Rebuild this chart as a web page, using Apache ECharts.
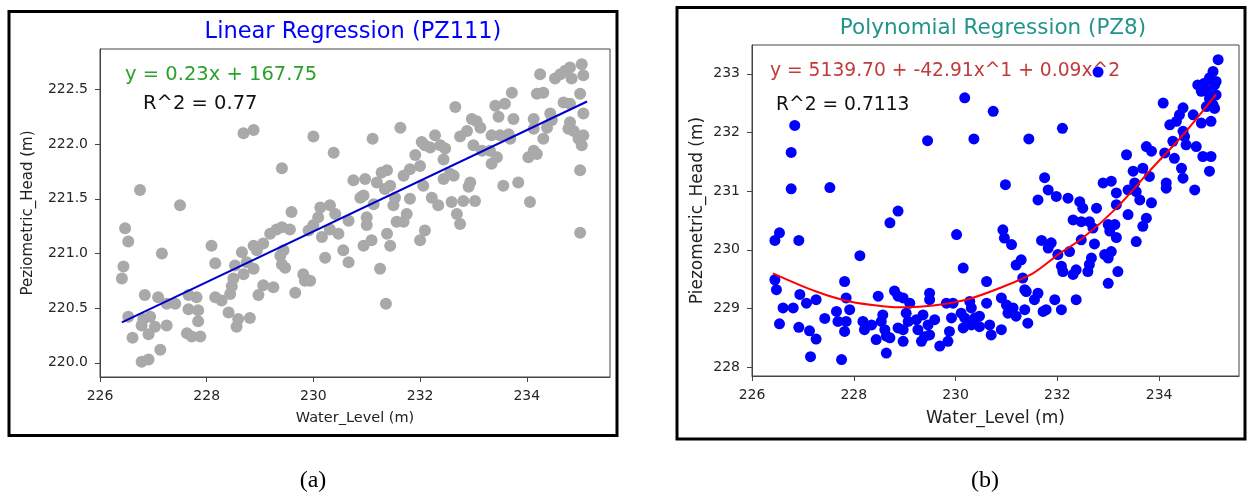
<!DOCTYPE html>
<html>
<head>
<meta charset="utf-8">
<script src="https://cdn.jsdelivr.net/npm/echarts@6/dist/echarts.min.js"></script>
<style>
html,body{margin:0;padding:0;background:#fff;}
#c{width:1247px;height:495px;}
</style>
</head>
<body>
<div id="c"></div>
<script>
// ---- Panel (a): Linear Regression (PZ111) ----
const leftX = [226.47,226.53,226.44,226.41,226.75,227.50,227.16,226.84,227.09,226.53,
226.81,226.94,226.78,227.03,227.25,226.91,226.61,227.13,226.78,226.91,
227.25,227.41,227.66,227.81,227.84,227.66,227.84,227.63,227.72,227.88,
228.09,228.16,228.16,228.28,228.44,228.41,228.47,228.50,228.53,228.66,
228.75,228.88,228.69,228.59,228.56,228.81,228.97,229.06,229.25,228.88,
228.94,229.06,229.19,229.31,229.41,229.56,229.44,229.38,229.41,229.47,
229.59,229.66,229.81,229.84,229.94,229.91,230.00,230.09,230.13,230.16,
230.22,230.31,230.31,230.41,230.47,230.56,230.66,230.66,230.38,230.00,
229.41,228.69,228.88,230.75,230.97,230.88,230.94,231.00,231.00,230.94,
231.09,231.25,231.36,231.13,231.19,231.28,231.38,231.34,231.44,231.53,
231.50,231.38,231.44,231.56,231.69,231.75,231.81,231.63,231.11,231.69,
231.81,231.91,232.00,232.06,232.09,232.03,232.19,232.28,232.38,232.47,
232.44,232.00,232.09,232.22,232.34,232.44,232.56,232.63,232.66,232.59,
232.69,232.75,232.81,232.75,232.88,232.94,232.91,233.03,232.97,233.06,
233.13,233.00,233.16,233.31,233.34,233.44,233.41,233.47,233.50,233.34,
233.59,233.66,233.72,233.75,233.69,233.56,233.84,234.06,234.03,234.13,
234.19,234.13,234.13,234.25,234.19,234.31,234.38,234.44,234.31,234.47,
234.53,234.63,234.72,234.81,234.84,235.03,235.06,234.69,234.81,235.00,
235.06,234.81,234.88,234.97,235.03,235.06,235.00,235.00,234.78];
const leftY = [221.23,221.11,220.88,220.77,221.58,221.44,221.00,220.62,220.60,220.42,
220.40,220.42,220.34,220.33,220.34,220.26,220.23,220.12,220.01,220.03,
220.54,220.54,220.62,220.60,220.48,220.49,220.38,220.27,220.24,220.24,
221.07,220.91,220.60,220.57,220.63,220.46,220.70,220.77,220.89,221.01,
220.92,220.86,220.81,220.40,220.33,220.41,220.62,220.71,220.69,221.07,
221.03,221.09,221.18,221.22,221.24,221.22,221.03,220.98,220.90,220.87,
221.38,220.64,220.81,220.75,220.75,221.21,221.26,221.33,221.42,221.15,
220.96,221.22,221.44,221.36,221.18,221.03,220.92,221.30,221.92,222.07,
221.78,222.10,222.13,221.67,221.68,221.51,221.53,221.33,221.26,221.07,
221.12,220.86,220.54,221.45,221.65,221.74,221.76,221.59,221.62,221.51,
221.44,221.18,221.07,221.29,221.29,221.36,221.50,222.15,222.05,221.71,
221.77,221.90,221.80,221.62,221.99,222.02,221.97,222.08,221.99,221.96,
221.86,221.12,221.21,221.51,221.44,221.68,221.73,221.71,222.34,221.47,
221.36,221.27,221.48,222.07,222.12,221.65,221.61,221.48,222.23,222.21,
222.15,221.99,221.94,221.94,221.82,221.88,222.35,222.25,222.08,222.08,
222.37,222.09,222.47,222.23,222.05,221.62,221.65,221.47,221.88,221.94,
221.91,222.14,222.23,222.64,222.46,222.47,222.15,222.28,222.05,222.22,
222.60,222.64,222.67,222.70,222.60,222.73,222.63,222.38,222.37,222.46,
222.28,222.20,222.12,222.05,221.99,222.08,221.76,221.19,222.14];
const fitLineX = [226.41, 235.13];
const fitLineY = [220.37, 222.39];
const leftXTicks = [226, 228, 230, 232, 234];
const leftYTicks = [220.0, 220.5, 221.0, 221.5, 222.0, 222.5];

// ---- Panel (b): Polynomial Regression (PZ8) ----
const rightX = [226.45,226.54,226.84,226.77,226.77,226.92,227.53,226.45,226.48,226.61,
226.81,226.54,226.94,227.07,227.26,226.92,227.13,227.26,227.15,227.43,
227.66,227.69,227.85,227.82,227.82,227.85,227.92,227.76,228.12,228.18,
228.21,228.35,228.44,228.48,228.54,228.61,228.64,228.71,228.64,228.57,
228.71,228.87,228.80,228.87,228.97,229.03,229.10,228.87,228.97,229.07,
228.97,229.23,229.26,229.36,229.39,229.33,229.49,229.49,229.46,229.49,
229.59,229.69,229.85,229.88,229.82,229.95,229.92,230.02,230.15,230.11,
230.18,230.15,230.28,230.31,230.31,230.38,230.47,230.47,230.61,230.61,
230.67,230.70,230.90,230.90,230.93,230.96,231.10,231.19,231.29,231.32,
231.36,231.39,231.00,231.03,231.13,231.19,231.36,231.42,231.55,231.62,
231.72,231.78,231.69,231.88,231.82,231.62,231.75,231.82,231.98,232.21,
232.44,232.50,232.31,232.47,232.63,232.77,232.70,232.47,232.73,232.24,
232.01,232.08,232.11,232.31,232.37,232.60,232.63,232.67,232.37,231.95,
232.08,232.90,233.06,233.16,233.16,233.00,233.13,233.03,233.16,232.93,
233.00,233.06,233.19,233.00,233.36,233.49,233.52,233.68,233.75,233.85,
233.81,233.55,233.62,233.39,233.39,233.55,233.68,233.75,233.85,234.08,
234.11,234.14,234.14,234.21,234.27,234.34,234.30,234.40,234.47,234.47,
234.53,234.50,234.44,234.47,234.67,234.73,234.70,234.83,234.83,234.86,
234.99,235.02,235.02,235.06,235.09,234.76,234.89,234.96,234.99,235.06,
235.09,235.12,235.16,235.12,234.99,234.93,230.74,230.18,230.36,229.45,
231.44,232.10,232.80,230.98];
const rightY = [230.16,230.29,232.12,231.66,231.04,230.16,231.06,229.49,229.32,229.01,
229.01,228.74,229.24,229.09,229.15,228.68,228.62,228.48,228.18,228.83,
228.95,228.78,228.78,228.61,229.46,229.18,228.98,228.13,229.90,228.78,
228.64,228.72,228.47,229.21,228.78,228.64,228.53,228.50,228.24,228.89,
230.46,230.66,229.30,229.21,229.18,228.92,229.09,228.67,228.64,228.78,
228.44,228.81,228.64,228.89,228.52,228.44,229.26,229.15,228.72,228.55,
228.81,228.36,228.44,228.61,229.09,229.09,228.84,230.26,229.69,228.92,
228.84,228.67,229.12,229.01,228.72,228.84,228.87,228.69,229.09,229.46,
228.72,228.55,228.64,229.18,230.34,230.20,230.09,229.74,229.83,229.52,
229.32,229.29,229.06,228.92,229.01,228.87,228.98,228.75,229.15,229.26,
228.95,228.98,230.16,230.12,230.03,230.85,231.23,231.02,230.91,230.88,
230.82,230.71,230.51,230.48,230.48,230.71,230.37,230.17,230.10,229.97,
229.92,229.72,229.63,229.58,229.66,229.63,229.75,229.86,229.15,229.15,
228.98,231.14,231.17,230.97,230.77,230.43,230.43,230.32,230.21,229.92,
229.86,229.97,229.63,229.43,231.62,231.34,231.14,231.39,231.76,231.68,
231.25,230.99,230.85,231.02,230.60,230.14,230.40,230.54,230.80,232.50,
231.65,231.14,231.05,232.13,231.85,232.19,231.56,232.30,232.42,232.02,
231.79,231.93,231.39,231.22,232.30,231.76,231.02,232.16,232.70,231.59,
231.34,231.59,232.19,232.47,232.41,232.81,232.84,232.70,232.93,233.04,
232.81,232.87,233.24,232.64,232.58,232.44,232.36,232.59,231.89,231.86,
231.89,232.07,233.03,231.11];
const curveX = [226.41,227.26,227.92,228.57,229.03,229.56,230.21,230.87,231.52,232.05,232.50,233.16,233.81,234.47,235.12];
const curveY = [229.60,229.29,229.12,229.04,229.02,229.05,229.15,229.35,229.60,229.94,230.20,230.71,231.34,231.96,232.65];
const rightXTicks = [226, 228, 230, 232, 234];
const rightYTicks = [228, 229, 230, 231, 232, 233];

// ---- Texts ----
const titleA = 'Linear Regression (PZ111)';
const titleB = 'Polynomial Regression (PZ8)';
const eqA = 'y = 0.23x + 167.75';
const r2A = 'R^2 = 0.77';
const eqB = 'y = 5139.70 + -42.91x^1 + 0.09x^2';
const r2B = 'R^2 = 0.7113';
const xNameA = 'Water_Level (m)';
const yNameA = 'Peziometric_Head (m)';
const xNameB = 'Water_Level (m)';
const yNameB = 'Piezometric_Head (m)';

const zip = (a, b) => a.map((v, i) => [v, b[i]]);
const FONT = 'DejaVu Sans';

function xAx(idx, min, max, ticks, nameSize, name) {
  return {
    type: 'value', gridIndex: idx, min: min, max: max,
    name: name, nameLocation: 'middle', nameGap: 34,
    nameTextStyle: {fontFamily: FONT, fontSize: nameSize, color: '#222'},
    axisLine: {show: true, onZero: false, lineStyle: {color: '#444', width: 1}},
    axisTick: {show: true, inside: false, length: 5, lineStyle: {color: '#444'}, customValues: ticks},
    axisLabel: {fontFamily: FONT, fontSize: 14, color: '#262626', margin: 12, customValues: ticks,
      formatter: v => String(Math.round(v))},
    splitLine: {show: false}
  };
}
function yAx(idx, min, max, ticks, nameSize, name, gap, dec) {
  return {
    type: 'value', gridIndex: idx, min: min, max: max,
    name: name, nameLocation: 'middle', nameGap: gap, nameRotate: 90,
    nameTextStyle: {fontFamily: FONT, fontSize: nameSize, color: '#222'},
    axisLine: {show: true, onZero: false, lineStyle: {color: '#444', width: 1}},
    axisTick: {show: true, inside: false, length: 5, lineStyle: {color: '#444'}, customValues: ticks},
    axisLabel: {fontFamily: FONT, fontSize: 14, color: '#262626', margin: 12, customValues: ticks,
      formatter: v => v.toFixed(dec)},
    splitLine: {show: false}
  };
}

function txt(x, y, text, size, color, align, family) {
  return {type: 'text', x: x, y: y, silent: true, z: 100,
    style: {text: text, fill: color, fontSize: size, fontFamily: family || FONT,
      align: align, verticalAlign: 'middle', textAlign: align, textVerticalAlign: 'middle'}};
}

const chart = echarts.init(document.getElementById('c'), null, {renderer: 'canvas'});
chart.setOption({
  animation: false,
  backgroundColor: '#fff',
  grid: [
    {left: 100, top: 49, width: 510, height: 328, show: true, borderColor: '#444', borderWidth: 1, backgroundColor: '#fff'},
    {left: 752, top: 45, width: 487, height: 331, show: true, borderColor: '#444', borderWidth: 1, backgroundColor: '#fff'}
  ],
  xAxis: [
    xAx(0, 226, 235.56, leftXTicks, 14.5, xNameA),
    xAx(1, 226, 235.57, rightXTicks, 17, xNameB)
  ],
  yAxis: [
    yAx(0, 219.87, 222.87, leftYTicks, 15, yNameA, 64, 1),
    yAx(1, 227.85, 233.49, rightYTicks, 17, yNameB, 46, 0)
  ],
  series: [
    {type: 'scatter', xAxisIndex: 0, yAxisIndex: 0, data: zip(leftX, leftY), symbolSize: 12,
      itemStyle: {color: '#a9a9a9', opacity: 1}, z: 2},
    {type: 'line', xAxisIndex: 0, yAxisIndex: 0, data: zip(fitLineX, fitLineY), symbol: 'none',
      lineStyle: {color: '#0000cd', width: 2}, z: 3},
    {type: 'scatter', xAxisIndex: 1, yAxisIndex: 1, data: zip(rightX, rightY), symbolSize: 11,
      itemStyle: {color: '#0000ff', opacity: 1}, z: 2},
    {type: 'line', xAxisIndex: 1, yAxisIndex: 1, data: zip(curveX, curveY), symbol: 'none', smooth: 0.3,
      lineStyle: {color: '#ff0000', width: 2}, z: 3}
  ],
  graphic: [
    {type: 'rect', silent: true, z: 50, shape: {x: 9, y: 11.5, width: 608, height: 424},
      style: {fill: 'none', stroke: '#000', lineWidth: 3}},
    {type: 'rect', silent: true, z: 50, shape: {x: 677, y: 7.5, width: 568, height: 431.5},
      style: {fill: 'none', stroke: '#000', lineWidth: 3}},
    txt(353, 32, titleA, 22.5, '#0000ff', 'center'),
    txt(993, 28, titleB, 21.5, '#21958a', 'center'),
    txt(125, 75, eqA, 19.5, '#2ca02c', 'left'),
    txt(143, 104, r2A, 19.5, '#111', 'left'),
    txt(770, 71, eqB, 18.7, '#c03c3c', 'left'),
    txt(776, 105, r2B, 18.7, '#111', 'left'),
    txt(313, 481, '(a)', 24, '#000', 'center', 'Liberation Serif'),
    txt(985, 481, '(b)', 24, '#000', 'center', 'Liberation Serif')
  ]
});
</script>
</body>
</html>
